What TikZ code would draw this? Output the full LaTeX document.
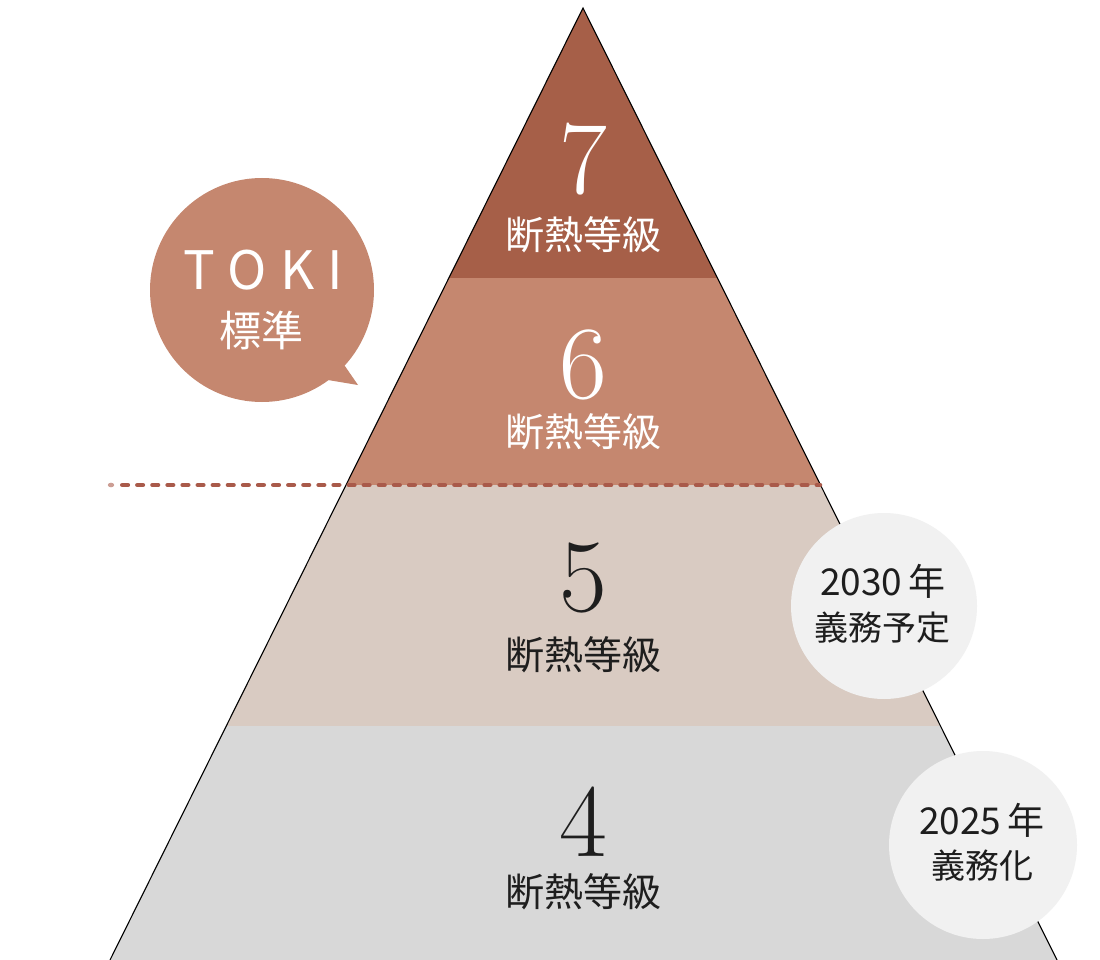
\documentclass[tikz,border=0pt]{standalone}
\usepackage{fontspec}
\newfontfamily\jp{Noto Sans CJK JP}
\definecolor{c7}{HTML}{A65F48}
\definecolor{c6}{HTML}{C5876F}
\definecolor{c5}{HTML}{D9CBC2}
\definecolor{c4}{HTML}{D8D8D8}
\definecolor{cbub}{HTML}{F1F1F1}
\definecolor{cdot}{HTML}{A95A4A}
\definecolor{cdotl}{HTML}{CC9E94}
\definecolor{ink}{HTML}{1E1E1E}
\tikzset{
  num/.style={font=\fontsize{104}{104}\selectfont, inner sep=0pt},
  lab/.style={font=\jp\fontsize{39}{39}\selectfont, inner sep=0pt},
  edge/.style={draw=black, line width=1.1pt},
  dotline/.style={draw=cdot, line width=4.6pt, line cap=round, dash pattern=on 5.5pt off 9.6pt},
  circtxt/.style={font=\jp\fontsize{37}{37}\selectfont, inner sep=0pt, text=ink},
  circtxtb/.style={font=\jp\fontsize{34}{34}\selectfont, inner sep=0pt, text=ink},
}
\begin{document}
\begin{tikzpicture}[x=1pt,y=-1pt]
\useasboundingbox (0,0) rectangle (1100,960);
\fill[white] (0,0) rectangle (1100,960);
\coordinate (A) at (583,8);
\coordinate (BL) at (110,960);
\coordinate (BR) at (1057,960);
\begin{scope}
  \clip (A) -- (BL) -- (BR) -- cycle;
  \fill[c7] (0,0) rectangle (1100,278);
  \fill[c6] (0,278) rectangle (1100,485);
  \fill[c5] (0,485) rectangle (1100,726);
  \fill[c4] (0,726) rectangle (1100,961);
\end{scope}
\draw[edge] (BL) -- (A) -- (BR);
% dotted line
\coordinate (d0) at (111,485);
\coordinate (dL) at (122.3,485);
\coordinate (dR) at (820,485);
\fill[cdotl] (d0) ellipse (3.2 and 2.3);
\draw[dotline] (dL) -- (dR);
% bubble
\fill[c6] (262,290) circle (112);
\fill[c6] (338,356) -- (358,385) -- (316,378) -- cycle;
\node[inner sep=0pt, text=white, font=\jp\fontsize{53}{53}\selectfont] (toki) at (263,270) {T\hspace{13pt}O\hspace{13pt}K\hspace{13pt}I};
\node[inner sep=0pt, text=white, font=\jp\fontsize{42}{42}\selectfont] (hyo) at (261,330) {標準};
% levels
\node[num, text=white] (n7) at (583,159) {7};
\node[lab, text=white] (l7) at (583,235) {断熱等級};
\node[num, text=white] (n6) at (583,365) {6};
\node[lab, text=white] (l6) at (583,432) {断熱等級};
\node[num, text=ink] (n5) at (583,578) {5};
\node[lab, text=ink] (l5) at (583,655) {断熱等級};
\node[num, text=ink] (n4) at (583,822) {4};
\node[lab, text=ink] (l4) at (583,892) {断熱等級};
% circles
\fill[cbub] (884,606) circle (93);
\node[circtxt] (y30) at (883,581) {2030\,年};
\node[circtxtb] (g30) at (882,628) {義務予定};
\fill[cbub] (983,845) circle (94);
\node[circtxt] (y25) at (982,820) {2025\,年};
\node[circtxtb] (g25) at (982,866) {義務化};
\end{tikzpicture}
\end{document}
